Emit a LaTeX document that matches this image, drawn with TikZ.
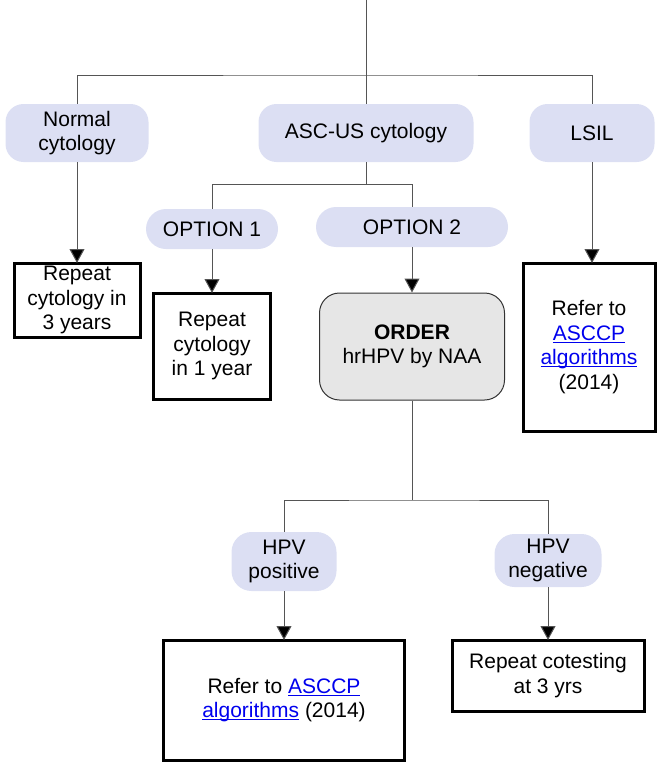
\documentclass[tikz,border=0pt]{standalone}
\usepackage{fontspec}
\setmainfont{Liberation Sans}
\usetikzlibrary{arrows.meta}
\definecolor{pill}{HTML}{DCDFF3}
\definecolor{linkblue}{HTML}{0000EE}
\definecolor{conn}{HTML}{555555}
\definecolor{orderfill}{HTML}{E6E6E6}
\newcommand{\lnk}[1]{{\color{linkblue}\setbox0\hbox{#1}\rlap{\rule[-2.5pt]{\wd0}{1pt}}\box0}}
\begin{document}
\begin{tikzpicture}[x=1pt,y=-1pt,
  every node/.style={font=\fontsize{21}{24.5}\selectfont, align=center, inner sep=0pt},
  pillnode/.style={fill=pill, rounded corners=18pt},
  outbox/.style={draw=black, line width=3pt, fill=white},
  orderbox/.style={draw=black!80, line width=1pt, fill=orderfill, rounded corners=20pt},
  conn/.style={draw=conn, line width=1pt},
  arr/.style={conn, -{Triangle[width=15pt,length=14pt,fill=black]}}]
\useasboundingbox (0,0) rectangle (656,768);
% nodes
\node[pillnode, minimum width=143pt, minimum height=58pt] (normal) at (77,133) {Normal\\cytology};
\node[pillnode, minimum width=215pt, minimum height=58pt] (ascus) at (366,133) {ASC-US cytology};
\node[pillnode, minimum width=125pt, minimum height=58pt] (lsil) at (592,133) {LSIL};
\node[pillnode, rounded corners=20pt, minimum width=132pt, minimum height=40pt] (opt1) at (212,229) {OPTION 1};
\node[pillnode, rounded corners=20pt, minimum width=192pt, minimum height=40pt] (opt2) at (412,227) {OPTION 2};
\node[outbox, minimum width=126pt, minimum height=74pt] (rep3) at (77,300) {Repeat\\cytology in\\3 years};
\node[outbox, minimum width=117pt, minimum height=106pt] (rep1) at (212,346) {Repeat\\cytology\\in 1 year};
\node[orderbox, minimum width=185pt, minimum height=107pt] (order) at (412,346.5) {\textbf{ORDER}\\hrHPV by NAA};
\node[outbox, minimum width=132pt, minimum height=168pt] (lsilbox) at (589,347) {Refer to\\\lnk{ASCCP}\\\lnk{algorithms}\\(2014)};
\node[pillnode, rounded corners=20pt, minimum width=105pt, minimum height=59pt] (hpvpos) at (284,561.5) {HPV\\positive};
\node[pillnode, rounded corners=20pt, minimum width=107pt, minimum height=53pt] (hpvneg) at (548,560.5) {HPV\\negative};
\node[outbox, minimum width=241pt, minimum height=120pt] (refer) at (284,700) {Refer to \lnk{ASCCP}\\\lnk{algorithms} (2014)};
\node[outbox, minimum width=192pt, minimum height=71pt] (cotest) at (548,675.5) {Repeat cotesting\\at 3 yrs};
% connectors
\coordinate (top) at (366,0);
\coordinate (j1) at (366,75);
\draw[conn] (top) -- (ascus.north);
\draw[conn] (normal.north) |- (j1) -| (lsil.north);
\draw[conn] (ascus.south) -- ++(0,22) coordinate (j2);
\draw[conn] (opt1.north) |- (j2) -| (opt2.north);
\draw[arr] (normal.south) -- ([yshift=-1.5pt]rep3.north);
\draw[arr] (opt1.south) -- ([yshift=-1.5pt]rep1.north);
\draw[arr] (opt2.south) -- (order.north);
\draw[arr] (lsil.south) -- ([yshift=-1.5pt]lsil.south |- lsilbox.north);
\draw[conn] (order.south) -- (412,500) coordinate (j3);
\draw[conn] (hpvpos.north) |- (j3) -| (hpvneg.north);
\draw[arr] (hpvpos.south) -- ([yshift=-1.5pt]refer.north);
\draw[arr] (hpvneg.south) -- ([yshift=-1.5pt]cotest.north);
\end{tikzpicture}
\end{document}
